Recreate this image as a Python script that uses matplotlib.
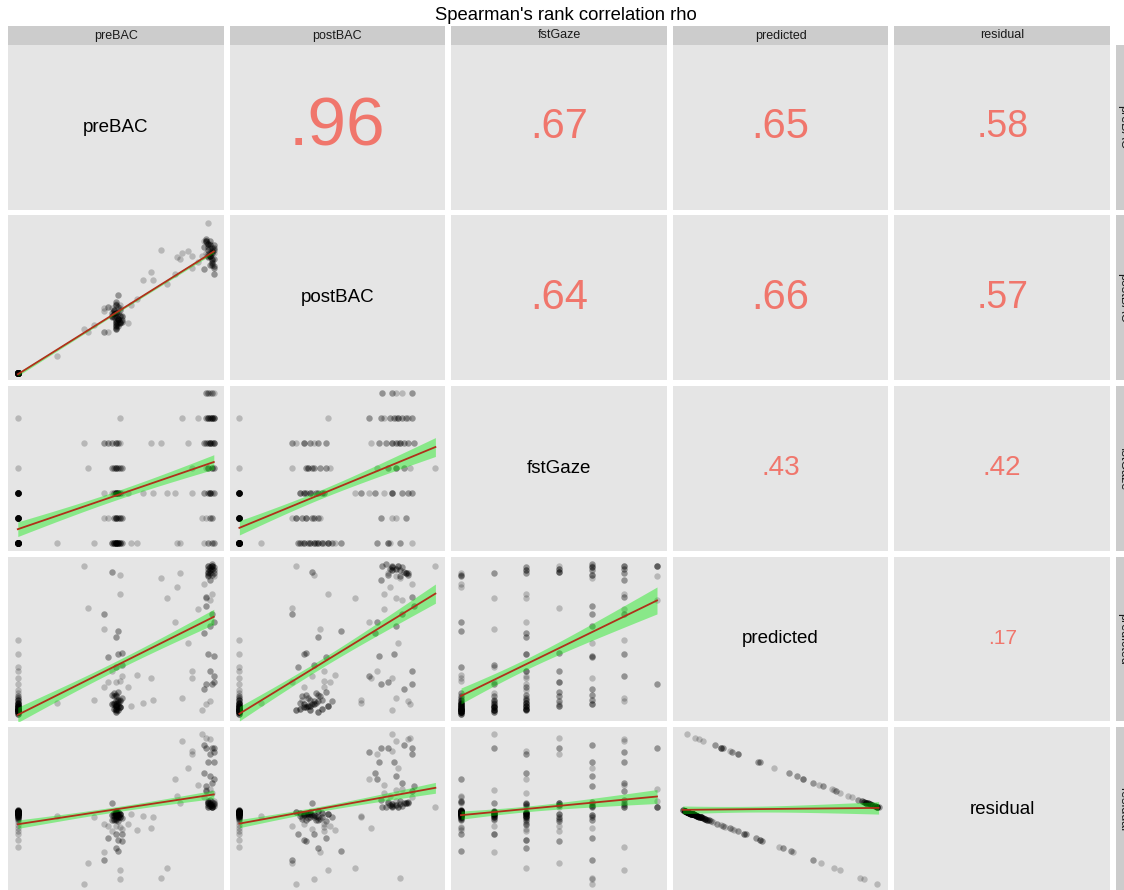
import numpy as np
import matplotlib
matplotlib.use("Agg")
import matplotlib.pyplot as plt

plt.rcParams['font.family'] = ['Liberation Sans', 'DejaVu Sans']

variables = ["preBAC", "postBAC", "fstGaze", "predicted", "residual"]
title = "Spearman's rank correlation rho"

# ---------------- data ----------------
# each row is a distinct observation profile; *_count = how many trials share it
# placebo subjects: preBAC = postBAC = 0
placebo_pre = [0.0] * 32
placebo_post = [0.0] * 32
placebo_gaze = [0, 0, 0, 0, 0, 0, 0, 0, 0, 0, 0, 0, 0, 0,
                1, 1, 1, 1, 1, 1, 1, 1,
                2, 2, 2, 2, 2, 2, 2, 2, 3, 5]
placebo_pred = [0.03, 0.04, 0.04, 0.05, 0.05, 0.06, 0.06, 0.07, 0.08, 0.09, 0.10, 0.12, 0.14, 0.26,
                0.04, 0.05, 0.07, 0.08, 0.10, 0.12, 0.16, 0.33,
                0.05, 0.06, 0.08, 0.10, 0.13, 0.18, 0.22, 0.41, 0.30, 0.50]
placebo_resid = [-0.03, -0.04, -0.04, -0.05, -0.05, -0.06, -0.06, -0.07, -0.08, -0.09, -0.10, -0.12, -0.14, -0.26,
                 -0.04, -0.05, -0.07, -0.08, -0.10, -0.12, -0.16, -0.33,
                 -0.05, -0.06, -0.08, -0.10, -0.13, -0.18, -0.22, -0.41, -0.30, -0.50]
placebo_count = [4, 4, 4, 4, 4, 4, 3, 3, 3, 3, 2, 2, 2, 1,
                 3, 3, 3, 3, 2, 2, 1, 1,
                 3, 3, 3, 2, 2, 1, 1, 1, 1, 1]

# moderate dose subjects
mid_pre = [0.50, 0.51, 0.49, 0.52, 0.50, 0.48, 0.51, 0.50, 0.53, 0.49, 0.52, 0.50, 0.51, 0.20, 0.39,
           0.50, 0.52, 0.49, 0.51, 0.50, 0.46, 0.53, 0.44,
           0.50, 0.51, 0.49, 0.52, 0.50, 0.53, 0.48, 0.51, 0.50, 0.44,
           0.50, 0.52, 0.49, 0.51, 0.50, 0.53, 0.36, 0.48,
           0.50, 0.51, 0.48, 0.46, 0.44, 0.52, 0.34, 0.52]
mid_post = [0.40, 0.36, 0.42, 0.33, 0.45, 0.38, 0.31, 0.47, 0.35, 0.39, 0.43, 0.30, 0.52, 0.11, 0.32,
            0.29, 0.34, 0.37, 0.40, 0.32, 0.27, 0.38, 0.41,
            0.31, 0.36, 0.39, 0.42, 0.34, 0.37, 0.43, 0.33, 0.40, 0.43,
            0.35, 0.38, 0.41, 0.44, 0.46, 0.34, 0.27, 0.37,
            0.33, 0.36, 0.40, 0.44, 0.27, 0.38, 0.29, 0.45]
mid_gaze = [0, 0, 0, 0, 0, 0, 0, 0, 0, 0, 0, 0, 0, 0, 0,
            1, 1, 1, 1, 1, 1, 1, 1,
            2, 2, 2, 2, 2, 2, 2, 2, 2, 2,
            3, 3, 3, 3, 3, 3, 3, 3,
            4, 4, 4, 4, 4, 4, 4, 5]
mid_pred = [0.04, 0.05, 0.06, 0.07, 0.08, 0.09, 0.10, 0.11, 0.13, 0.16, 0.24, 0.33, 0.56, 0.10, 0.12,
            0.05, 0.07, 0.09, 0.11, 0.14, 0.23, 0.34, 0.57,
            0.06, 0.08, 0.10, 0.12, 0.15, 0.27, 0.30, 0.41, 0.52, 0.20,
            0.08, 0.11, 0.14, 0.17, 0.23, 0.42, 0.71, 0.94,
            0.09, 0.12, 0.15, 0.39, 0.67, 0.92, 0.98, 0.80]
mid_resid = [-0.04, -0.05, -0.06, -0.07, -0.08, -0.09, -0.10, -0.11, -0.13, -0.16, -0.24, -0.33, -0.56, -0.10, -0.12,
             -0.05, -0.07, -0.09, -0.11, -0.14, -0.23, -0.34, -0.57,
             -0.06, -0.08, -0.10, -0.12, -0.15, -0.27, -0.30, -0.41, -0.52, -0.20,
             -0.08, -0.11, -0.14, -0.17, -0.23, -0.42, -0.71, 0.06,
             -0.09, -0.12, -0.15, -0.39, -0.67, -0.92, -0.98, -0.80]
mid_count = [3, 3, 3, 3, 3, 3, 2, 2, 2, 2, 1, 2, 2, 1, 1,
             3, 3, 2, 2, 2, 1, 2, 1,
             3, 3, 2, 2, 2, 1, 1, 2, 2, 1,
             3, 2, 2, 2, 1, 2, 1, 2,
             3, 2, 2, 2, 2, 1, 1, 1]

# subjects between the moderate and high dose clusters
between_pre = [0.56, 0.61, 0.64, 0.69, 0.68, 0.73, 0.76, 0.81, 0.84, 0.89, 0.89, 0.87, 0.83, 0.80, 0.92, 0.58]
between_post = [0.33, 0.49, 0.62, 0.62, 0.67, 0.82, 0.59, 0.77, 0.80, 0.78, 0.70, 0.81, 0.76, 0.66, 0.74, 0.45]
between_gaze = [2, 0, 2, 2, 4, 4, 2, 0, 5, 2, 3, 4, 0, 2, 5, 0]
between_pred = [0.20, 0.28, 0.10, 0.12, 0.26, 0.90, 0.77, 0.84, 0.13, 0.26, 0.30, 0.48, 0.93, 0.62, 0.70, 0.08]
between_resid = [-0.20, -0.28, -0.10, -0.12, -0.26, -0.90, -0.77, 0.16, 0.87, 0.74, 0.70, 0.52, 0.07, 0.38, 0.30, -0.08]
between_count = [1, 1, 1, 1, 1, 1, 1, 1, 1, 1, 1, 1, 1, 1, 1, 1]

# high dose subjects
high_pre = [0.97, 0.99, 0.95, 1.00,
            0.98, 0.96, 0.99, 0.94,
            0.98, 1.00, 0.97, 0.99, 0.95, 0.98,
            0.99, 0.97, 0.97, 1.00, 0.96,
            0.98, 1.00, 0.97, 0.99, 0.96, 0.98, 1.00, 0.95,
            0.99, 0.97, 1.00, 0.98, 0.96, 0.99, 0.97, 1.00, 0.98,
            0.99, 0.97, 1.00, 0.98, 0.96]
high_post = [0.82, 0.76, 0.88, 0.70,
             0.85, 0.80, 0.72, 0.78,
             0.78, 0.83, 0.86, 0.74, 0.69, 0.88,
             0.80, 0.84, 1.00, 0.76, 0.87,
             0.78, 0.82, 0.86, 0.75, 0.89, 0.80, 0.71, 0.84,
             0.81, 0.77, 0.85, 0.72, 0.88, 0.83, 0.79, 0.66, 0.86,
             0.73, 0.78, 0.80, 0.83, 0.88]
high_gaze = [0, 0, 0, 0,
             1, 1, 1, 1,
             2, 2, 2, 2, 2, 2,
             3, 3, 3, 3, 3,
             4, 4, 4, 4, 4, 4, 4, 4,
             5, 5, 5, 5, 5, 5, 5, 5, 5,
             6, 6, 6, 6, 6]
high_pred = [0.91, 0.92, 0.86, 0.62,
             0.93, 0.77, 0.22, 0.05,
             0.95, 0.97, 0.93, 0.80, 0.55, 0.30,
             0.96, 0.94, 0.98, 0.23, 0.09,
             0.97, 0.95, 0.92, 0.99, 0.72, 0.59, 0.40, 0.19,
             0.98, 0.96, 0.93, 0.89, 0.78, 0.67, 0.41, 0.27, 0.11,
             0.98, 0.98, 0.91, 0.76, 0.22]
high_resid = [0.09, 0.08, 0.14, 0.38,
              0.07, 0.23, 0.78, 0.95,
              0.05, 0.03, 0.07, 0.20, 0.45, 0.70,
              0.04, 0.06, 0.02, 0.77, 0.91,
              0.03, 0.05, 0.08, 0.01, 0.28, 0.41, 0.60, 0.81,
              0.02, 0.04, 0.07, 0.11, 0.22, 0.33, 0.59, 0.73, 0.89,
              0.02, 0.02, 0.09, 0.24, 0.78]
high_count = [2, 2, 1, 2,
              2, 1, 2, 1,
              3, 2, 2, 1, 2, 2,
              3, 2, 1, 2, 1,
              3, 2, 2, 2, 2, 2, 2, 2,
              3, 2, 2, 2, 2, 2, 2, 2, 1,
              2, 2, 1, 1, 2]

# Spearman coefficients printed in the upper triangle (row-major)
corr_text = [".96", ".67", ".65", ".58", ".64", ".66", ".57", ".43", ".42", ".17"]

# ---------------- assemble ----------------
counts = np.array(placebo_count + mid_count + between_count + high_count)
data = {
    "preBAC": np.repeat(np.array(placebo_pre + mid_pre + between_pre + high_pre, float), counts),
    "postBAC": np.repeat(np.array(placebo_post + mid_post + between_post + high_post, float), counts),
    "fstGaze": np.repeat(np.array(placebo_gaze + mid_gaze + between_gaze + high_gaze, float), counts),
    "predicted": np.repeat(np.array(placebo_pred + mid_pred + between_pred + high_pred, float), counts),
    "residual": np.repeat(np.array(placebo_resid + mid_resid + between_resid + high_resid, float), counts),
}

# style
corr_size = [50, 30, 30, 27, 30, 30, 27, 20, 20, 15]
panel_bg = "#E5E5E5"
strip_bg = "#CCCCCC"
corr_color = "#F0766C"
line_color = "#B0301A"
band_color = "#00EE00"

W, H = 1124, 890
fig = plt.figure(figsize=(W / 100, H / 100), dpi=100)
fig.patch.set_facecolor("white")


def rect(x, y, w, h):
    return [x / W, 1 - (y + h) / H, w / W, h / H]


col_x0, pw, cgap = 8.0, 215.6, 6.0
row_y0, ph, rgap = 45.0, 164.5, 6.0


def limits(v):
    lo, hi = float(np.min(v)), float(np.max(v))
    s = hi - lo
    return lo - 0.05 * s, hi + 0.05 * s


def clean(ax):
    ax.set_xticks([])
    ax.set_yticks([])
    for sp in ax.spines.values():
        sp.set_visible(False)


nvar = len(variables)
k = 0
for i in range(nvar):
    for j in range(nvar):
        x0 = col_x0 + j * (pw + cgap)
        y0 = row_y0 + i * (ph + rgap)
        ax = fig.add_axes(rect(x0, y0, pw, ph))
        ax.set_facecolor(panel_bg)
        clean(ax)
        if i == j:
            ax.set_xlim(0, 1)
            ax.set_ylim(0, 1)
            ax.text(0.5, 0.5, variables[i], ha="center", va="center",
                    fontsize=13.5, color="black")
        elif j > i:
            ax.set_xlim(0, 1)
            ax.set_ylim(0, 1)
            ax.text(0.5, 0.5, corr_text[k], ha="center", va="center",
                    fontsize=corr_size[k], color=corr_color)
            k += 1
        else:
            xv = data[variables[j]]
            yv = data[variables[i]]
            ax.scatter(xv, yv, s=21, color="black", alpha=0.2, linewidths=0, zorder=2)
            X = np.column_stack([np.ones_like(xv), xv])
            beta, *_ = np.linalg.lstsq(X, yv, rcond=None)
            n = len(xv)
            res = yv - X @ beta
            s2 = res @ res / (n - 2)
            XtXi = np.linalg.inv(X.T @ X)
            xs = np.linspace(xv.min(), xv.max(), 100)
            yh = beta[0] + beta[1] * xs
            se = np.sqrt(s2 * (XtXi[0, 0] + 2 * xs * XtXi[0, 1] + xs ** 2 * XtXi[1, 1]))
            tq = 1.968
            ax.fill_between(xs, yh - tq * se, yh + tq * se, color=band_color,
                            alpha=0.4, linewidth=0, zorder=3)
            ax.plot(xs, yh, color=line_color, lw=1.3, zorder=4)
            ax.set_xlim(*limits(xv))
            ax.set_ylim(*limits(yv))

# top strips
for j in range(nvar):
    x0 = col_x0 + j * (pw + cgap)
    sax = fig.add_axes(rect(x0, 26, pw, 19))
    sax.set_facecolor(strip_bg)
    clean(sax)
    sax.set_xlim(0, 1)
    sax.set_ylim(0, 1)
    sax.text(0.5, 0.5, variables[j], ha="center", va="center", fontsize=9, color="#1A1A1A")

# right strips (partly outside the figure)
for i in range(nvar):
    y0 = row_y0 + i * (ph + rgap)
    sax = fig.add_axes(rect(1116, y0, 19, ph))
    sax.set_facecolor(strip_bg)
    clean(sax)
    sax.set_xlim(0, 1)
    sax.set_ylim(0, 1)
    sax.text(0.4, 0.5, variables[i], ha="center", va="center", rotation=-90,
             fontsize=9, color="#1A1A1A")

fig.text(566 / W, 1 - 15 / H, title, ha="center", va="center", fontsize=13.3, color="black")

fig.savefig("out.png", dpi=100, facecolor="white")
